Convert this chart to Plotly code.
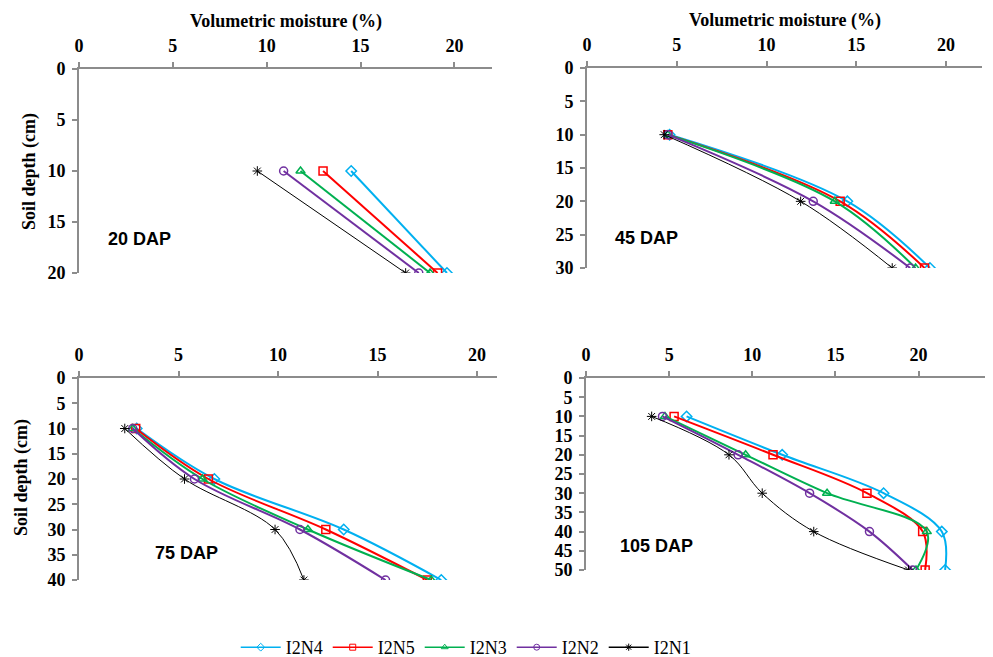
import plotly.graph_objects as go

series_names = ["I2N4", "I2N5", "I2N3", "I2N2", "I2N1"]
series_colors = ["#00B0F0", "#FF0000", "#00B050", "#7030A0", "#000000"]
series_symbols = ["diamond-open", "square-open", "triangle-up-open", "circle-open", "asterisk-open"]
series_widths = [2, 2, 2, 2, 1]

panel_labels = ["20 DAP", "45 DAP", "75 DAP", "105 DAP"]

depth_20 = [10, 20]
depth_45 = [10, 20, 30]
depth_75 = [10, 20, 30, 40]
depth_105 = [10, 20, 30, 40, 50]

# moisture values (%) per series: I2N4, I2N5, I2N3, I2N2, I2N1
dap20_I2N4 = [14.5, 19.6]
dap20_I2N5 = [13.0, 19.1]
dap20_I2N3 = [11.8, 18.7]
dap20_I2N2 = [10.9, 18.1]
dap20_I2N1 = [9.5, 17.4]

dap45_I2N4 = [4.6, 14.5, 19.1]
dap45_I2N5 = [4.5, 14.1, 18.8]
dap45_I2N3 = [4.5, 13.8, 18.3]
dap45_I2N2 = [4.5, 12.6, 18.0]
dap45_I2N1 = [4.3, 11.9, 17.0]

dap75_I2N4 = [2.9, 6.8, 13.3, 18.2]
dap75_I2N5 = [2.85, 6.5, 12.4, 17.5]
dap75_I2N3 = [2.7, 6.2, 11.5, 17.7]
dap75_I2N2 = [2.7, 5.8, 11.1, 15.4]
dap75_I2N1 = [2.3, 5.3, 9.85, 11.3]

dap105_I2N4 = [6.05, 11.8, 17.9, 21.4, 21.6]
dap105_I2N5 = [5.3, 11.25, 16.9, 20.25, 20.4]
dap105_I2N3 = [4.75, 9.6, 14.5, 20.5, 19.85]
dap105_I2N2 = [4.6, 9.15, 13.45, 17.05, 19.65]
dap105_I2N1 = [3.95, 8.6, 10.6, 13.7, 19.4]

panels = [
    (depth_20, [dap20_I2N4, dap20_I2N5, dap20_I2N3, dap20_I2N2, dap20_I2N1]),
    (depth_45, [dap45_I2N4, dap45_I2N5, dap45_I2N3, dap45_I2N2, dap45_I2N1]),
    (depth_75, [dap75_I2N4, dap75_I2N5, dap75_I2N3, dap75_I2N2, dap75_I2N1]),
    (depth_105, [dap105_I2N4, dap105_I2N5, dap105_I2N3, dap105_I2N2, dap105_I2N1]),
]

x_ranges = [[0, 22], [0, 22], [0, 21], [0, 24]]
y_max = [20, 30, 40, 50]
x_ticks = [0, 5, 10, 15, 20]

W, H = 993, 657
# plot areas in pixels: (left, right, top, bottom)
areas = [(79, 492, 69, 273), (587, 982, 68, 268), (79, 497, 378, 580), (586, 985, 378, 570)]

fig = go.Figure()
for p, (depths, vals) in enumerate(panels):
    sfx = "" if p == 0 else str(p + 1)
    for i, name in enumerate(series_names):
        fig.add_trace(go.Scatter(
            x=vals[i], y=depths, mode="lines+markers", name=name,
            legendgroup=name, showlegend=False,
            line=dict(color=series_colors[i], width=series_widths[i], shape="spline", smoothing=1),
            marker=dict(symbol=series_symbols[i], size=8, color=series_colors[i],
                        line=dict(color=series_colors[i], width=1.5 if i < 4 else 1)),
            xaxis="x" + sfx, yaxis="y" + sfx,
        ))

# legend-only entries (smaller markers, thinner lines as in the reference legend)
for i, name in enumerate(series_names):
    fig.add_trace(go.Scatter(
        x=[None], y=[None], mode="lines+markers", name=name, legendgroup=name, showlegend=True,
        line=dict(color=series_colors[i], width=1.5),
        marker=dict(symbol=series_symbols[i], size=6, color=series_colors[i],
                    line=dict(color=series_colors[i], width=1)),
    ))

tickfont = dict(family="Liberation Serif", size=18, color="black", weight="bold")
axis_common = dict(showgrid=False, zeroline=False, showline=True, linecolor="#8C8C8C", linewidth=2,
                   ticks="outside", ticklen=5, tickwidth=2, tickcolor="#8C8C8C", tickfont=tickfont)
layout = {}
for p in range(4):
    sfx = "" if p == 0 else str(p + 1)
    l, r, t, b = areas[p]
    layout["xaxis" + sfx] = dict(axis_common, domain=[l / W, r / W], range=x_ranges[p],
                                 tickvals=x_ticks, side="top", anchor="y" + sfx, ticklabelstandoff=3,
                                 automargin=False)
    layout["yaxis" + sfx] = dict(axis_common, domain=[1 - b / H, 1 - t / H], range=[y_max[p], 0],
                                 tickvals=list(range(0, y_max[p] + 1, 5)), anchor="x" + sfx,
                                 automargin=False, ticklabelstandoff=3)

title_font = dict(family="Liberation Serif", size=18, color="black", weight="bold")
label_font = dict(family="Liberation Sans", size=18, color="black", weight="bold")
annotations = [
    dict(text="Volumetric moisture (%)", x=286 / W, y=1 - 21 / H, xref="paper", yref="paper",
         showarrow=False, font=title_font, xanchor="center", yanchor="middle"),
    dict(text="Volumetric moisture (%)", x=785 / W, y=1 - 20 / H, xref="paper", yref="paper",
         showarrow=False, font=title_font, xanchor="center", yanchor="middle"),
    dict(text="Soil depth (cm)", x=29 / W, y=1 - 172 / H, xref="paper", yref="paper", textangle=-90,
         showarrow=False, font=title_font, xanchor="center", yanchor="middle"),
    dict(text="Soil depth (cm)", x=21 / W, y=1 - 478 / H, xref="paper", yref="paper", textangle=-90,
         showarrow=False, font=title_font, xanchor="center", yanchor="middle"),
]
label_pos = [(106, 239), (613, 238), (153, 553), (618, 546)]
for p, (lx, ly) in enumerate(label_pos):
    annotations.append(dict(text=panel_labels[p], x=lx / W, y=1 - ly / H, xref="paper", yref="paper",
                            showarrow=False, font=label_font, xanchor="left", yanchor="middle"))

fig.update_layout(
    **layout,
    annotations=annotations,
    width=W, height=H,
    margin=dict(l=0, r=0, t=0, b=0, autoexpand=False),
    paper_bgcolor="white", plot_bgcolor="white",
    showlegend=True,
    legend=dict(orientation="h", x=0.469, y=-9 / H, xanchor="center", yanchor="bottom",
                font=dict(family="Liberation Serif", size=18, color="black"),
                itemwidth=40, tracegroupgap=0, bgcolor="rgba(0,0,0,0)"),
)

fig.write_html("out.html")
